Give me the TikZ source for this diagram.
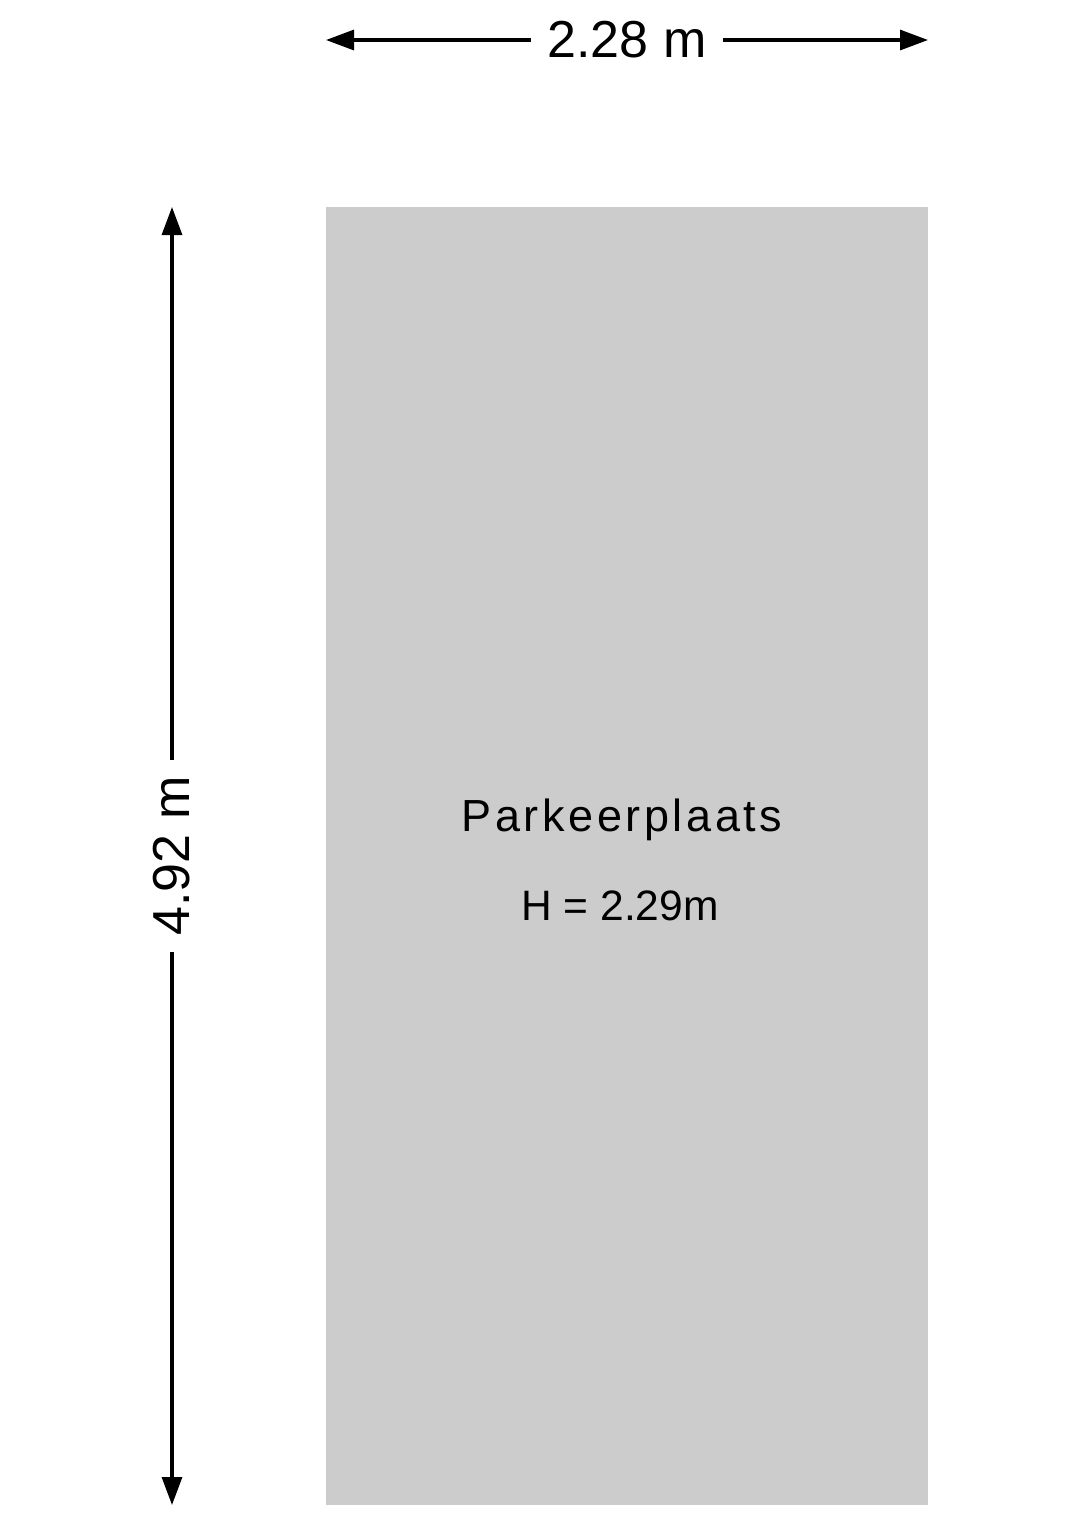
\documentclass[tikz,border=0pt]{standalone}
\usepackage{fontspec}
\setmainfont{Liberation Sans}
\newfontfamily\spacedfont[LetterSpace=8]{Liberation Sans}
\usetikzlibrary{arrows.meta}
\definecolor{lotgray}{RGB}{204,204,204}
\tikzset{
    area/.style={rectangle, fill=lotgray, draw=none, inner sep=0mm, minimum width=6.02cm, minimum height=12.98cm},
    dimlabel/.style={inner sep=4.5pt, font=\fontsize{14.8}{17}\selectfont},
    dimline/.style={line width=0.9pt, -{Triangle[length=2.8mm, width=2mm]}},
    roomlabel/.style={inner sep=0mm, anchor=base}
}
\begin{document}
\begin{tikzpicture}
        \useasboundingbox (0cm, 0cm) rectangle (10.80cm, -15.26cm);
        \node (lot) [area] at (6.27cm, -8.56cm) {};
        \node (name) [roomlabel, font=\fontsize{12.8}{15}\selectfont] at (6.22cm, -8.31cm) {\spacedfont Parkeerplaats};
        \node (height) [roomlabel, font=\fontsize{12.1}{15}\selectfont] at (6.20cm, -9.20cm) {H = 2.29m};
        % widths
        \node (w) [dimlabel] at (6.27cm, -0.40cm) {2.28 m};
        \coordinate (wl) at (3.26cm, -0.40cm);
        \coordinate (wr) at (9.28cm, -0.40cm);
        \draw [dimline] (w) -- (wl);
        \draw [dimline] (w) -- (wr);
        % lengths
        \node (l) [dimlabel, rotate=90] at (1.72cm, -8.56cm) {4.92 m};
        \coordinate (lt) at (1.72cm, -2.07cm);
        \coordinate (lb) at (1.72cm, -15.05cm);
        \draw [dimline] (l) -- (lt);
        \draw [dimline] (l) -- (lb);
\end{tikzpicture}
\end{document}
